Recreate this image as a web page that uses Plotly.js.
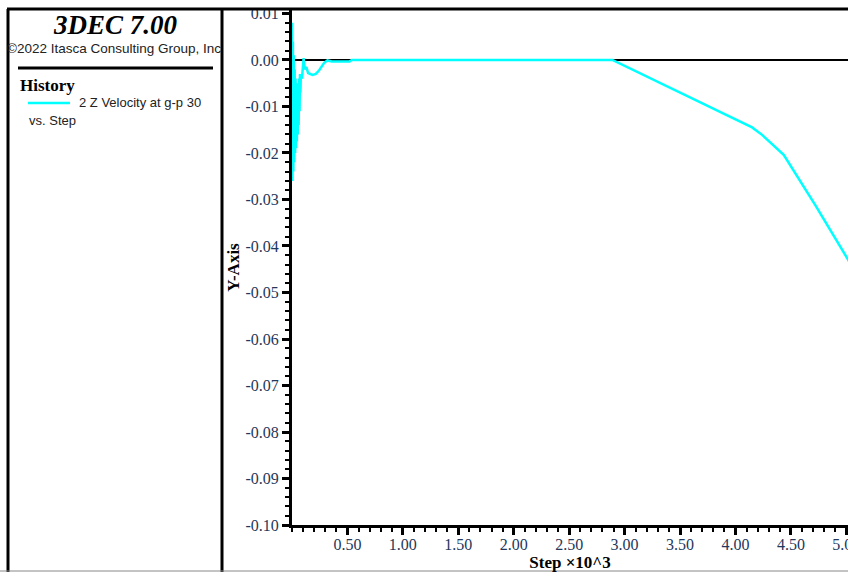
<!DOCTYPE html>
<html>
<head>
<meta charset="utf-8">
<script src="https://cdn.plot.ly/plotly-3.0.1.min.js"></script>
<style>
  html, body { margin: 0; padding: 0; background: #fff; overflow: hidden; }
  #chart { width: 848px; height: 572px; }
</style>
</head>
<body>
<div id="chart"></div>
<script>
// ---- data (step in thousands, Z velocity) ----
const steps = [
  0.000, 0.004, 0.008, 0.012, 0.016, 0.020, 0.024, 0.028, 0.032, 0.036,
  0.040, 0.044, 0.048, 0.052, 0.056, 0.060, 0.064, 0.068, 0.072, 0.076,
  0.080, 0.090, 0.105, 0.115, 0.130, 0.145, 0.185, 0.215, 0.245, 0.290,
  0.320, 0.360, 0.520, 0.540, 2.890, 3.500, 4.150, 4.240, 4.435, 4.720,
  5.007, 5.050
];
const zVelocity = [
  0.0080, -0.0260, 0.0040, -0.0240, 0.0010, -0.0220, -0.0020, -0.0200, -0.0040, -0.0190,
  -0.0050, -0.0175, -0.0060, -0.0160, -0.0050, -0.0140, -0.0040, -0.0110, -0.0030, -0.0070,
  -0.0030, -0.0040, 0.0004, -0.0020, -0.0015, -0.0028, -0.0032, -0.0030, -0.0022, -0.0006,
  -0.0001, -0.0003, -0.0003, 0.0000, 0.0000, -0.0071, -0.0145, -0.0161, -0.0204, -0.0312,
  -0.0426, -0.0443
];
const yTickVals = [0.01, 0.00, -0.01, -0.02, -0.03, -0.04, -0.05, -0.06, -0.07, -0.08, -0.09, -0.10];
const yTickText = ["0.01", "0.00", "-0.01", "-0.02", "-0.03", "-0.04", "-0.05", "-0.06", "-0.07", "-0.08", "-0.09", "-0.10"];
const xTickVals = [0.5, 1.0, 1.5, 2.0, 2.5, 3.0, 3.5, 4.0, 4.5, 5.0];
const xTickText = ["0.50", "1.00", "1.50", "2.00", "2.50", "3.00", "3.50", "4.00", "4.50", "5.00"];
const seriesName = "2 Z Velocity at g-p 30";

// ---- pixel helpers for layout decoration (plot area: x 292..848, y 10..525) ----
const L = 292, R = 848, T = 10, B = 525;
const PX = p => (p - L) / (R - L);
const PY = p => (B - p) / (B - T);

const serif = "Liberation Serif, Times New Roman, serif";
const sans = "Liberation Sans, Arial, sans-serif";
const tickColor = "#24375a";

const trace = {
  x: steps, y: zVelocity, type: "scatter", mode: "lines", name: seriesName,
  line: { color: "#00ffff", width: 2.5 }, hoverinfo: "x+y"
};

const shapes = [
  // top mask to clip label above the frame
  { type: "rect", xref: "paper", yref: "paper", x0: PX(0), x1: PX(848), y0: PY(0), y1: PY(8),
    fillcolor: "#fff", line: { width: 0 }, layer: "above" },
  { type: "line", xref: "paper", yref: "paper", x0: PX(7), x1: PX(848), y0: PY(9), y1: PY(9),
    line: { color: "#000", width: 3 }, layer: "above" },
  { type: "line", xref: "paper", yref: "paper", x0: PX(8), x1: PX(8), y0: PY(9), y1: PY(572),
    line: { color: "#000", width: 3 }, layer: "above" },
  { type: "line", xref: "paper", yref: "paper", x0: PX(222), x1: PX(222), y0: PY(9), y1: PY(572),
    line: { color: "#000", width: 3 }, layer: "above" },
  { type: "line", xref: "paper", yref: "paper", x0: PX(0), x1: PX(848), y0: PY(571), y1: PY(571),
    line: { color: "#888", width: 1 }, layer: "above" },
  { type: "line", xref: "paper", yref: "paper", x0: PX(18), x1: PX(213), y0: PY(68), y1: PY(68),
    line: { color: "#000", width: 3 }, layer: "above" },
  { type: "line", xref: "paper", yref: "paper", x0: PX(28), x1: PX(70), y0: PY(103), y1: PY(103),
    line: { color: "#00ffff", width: 2.5 }, layer: "above" }
];

const annotations = [
  { text: "3DEC 7.00", xref: "paper", yref: "paper", x: PX(115), y: PY(25), xanchor: "center", yanchor: "middle",
    showarrow: false, font: { family: serif, size: 27, color: "#000", weight: "bold", style: "italic" } },
  { text: "\u00a92022 Itasca Consulting Group, Inc", xref: "paper", yref: "paper", x: PX(114), y: PY(49),
    xanchor: "center", yanchor: "middle", showarrow: false, font: { family: sans, size: 13.5, color: "#222" } },
  { text: "History", xref: "paper", yref: "paper", x: PX(18), y: PY(85), xanchor: "left", yanchor: "middle",
    showarrow: false, font: { family: serif, size: 17, color: "#000", weight: "bold" } },
  { text: seriesName, xref: "paper", yref: "paper", x: PX(77), y: PY(103), xanchor: "left", yanchor: "middle",
    showarrow: false, font: { family: sans, size: 13, color: "#222" } },
  { text: "vs. Step", xref: "paper", yref: "paper", x: PX(27), y: PY(120), xanchor: "left", yanchor: "middle",
    showarrow: false, font: { family: sans, size: 13, color: "#222" } }
];

const layout = {
  width: 848, height: 572,
  margin: { l: L, r: 848 - R, t: T, b: 572 - B, pad: 0 },
  paper_bgcolor: "#fff", plot_bgcolor: "#fff",
  showlegend: false,
  xaxis: {
    range: [0, 5.015], showgrid: false, zeroline: false,
    showline: true, linecolor: "#000", linewidth: 3,
    tickmode: "array", tickvals: xTickVals, ticktext: xTickText,
    ticks: "outside", ticklen: 7, tickwidth: 3, tickcolor: "#000",
    ticklabeloverflow: "allow", ticklabelstandoff: -4,
    minor: { tickmode: "linear", tick0: 0, dtick: 0.1, ticks: "outside", ticklen: 4, tickwidth: 2, tickcolor: "#000", showgrid: false },
    tickfont: { family: serif, size: 16, color: tickColor },
    title: { text: "Step \u00d710^3", font: { family: serif, size: 17, color: "#000", weight: "bold" }, standoff: 9 }
  },
  yaxis: {
    range: [-0.1, 0.01075], showgrid: false,
    zeroline: true, zerolinecolor: "#000", zerolinewidth: 2,
    showline: true, linecolor: "#000", linewidth: 3,
    tickmode: "array", tickvals: yTickVals, ticktext: yTickText,
    ticks: "outside", ticklen: 7, tickwidth: 3, tickcolor: "#000",
    minor: { tickmode: "linear", tick0: 0, dtick: 0.002, ticks: "outside", ticklen: 4, tickwidth: 2, tickcolor: "#000", showgrid: false },
    tickfont: { family: serif, size: 16, color: tickColor },
    title: { text: "Y-Axis", font: { family: serif, size: 17, color: "#000", weight: "bold" }, standoff: 2 }
  },
  shapes: shapes,
  annotations: annotations
};

Plotly.newPlot("chart", [trace], layout, { displayModeBar: false, staticPlot: true });
</script>
</body>
</html>
